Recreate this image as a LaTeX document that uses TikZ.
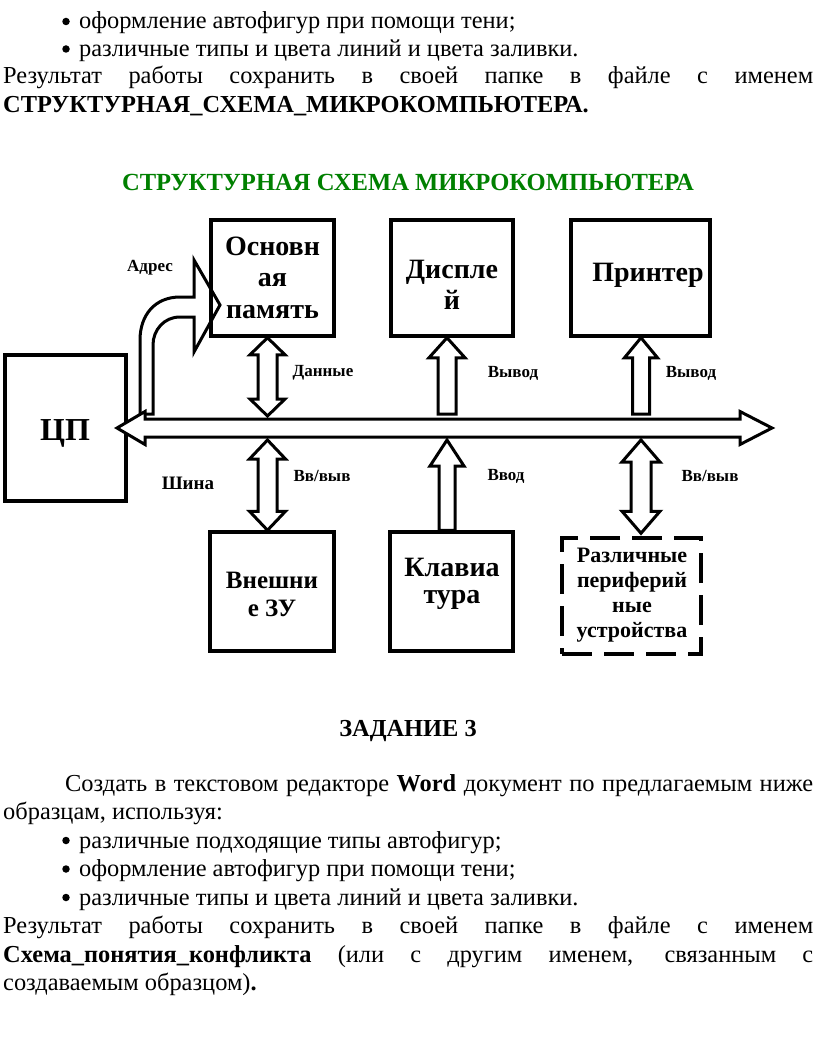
\documentclass[tikz,border=0pt]{standalone}
\usepackage{fontspec}
\setmainfont{LiberationSerif}[Extension=.ttf, UprightFont=*-Regular, BoldFont=*-Bold, ItalicFont=*-Italic, BoldItalicFont=*-BoldItalic]
\usetikzlibrary{calc}
\definecolor{titlegreen}{RGB}{0,128,0}
\newcommand\dblarrow[5]{%
\draw[blockarrow] let \p1=#1, \p2=#2 in (\x1,\y1) -- (\x1+#3pt,\y1-#5pt) -- (\x1+#4pt,\y1-#5pt) -- (\x1+#4pt,\y2+#5pt) -- (\x1+#3pt,\y2+#5pt) -- (\x1,\y2) -- (\x1-#3pt,\y2+#5pt) -- (\x1-#4pt,\y2+#5pt) -- (\x1-#4pt,\y1-#5pt) -- (\x1-#3pt,\y1-#5pt) -- cycle;}
\newcommand\uparr[5]{%
\draw[blockarrow] let \p1=#1, \p2=#2 in (\x1,\y1) -- (\x1+#3pt,\y1-#5pt) -- (\x1+#4pt,\y1-#5pt) -- (\x1+#4pt,\y2) -- (\x1-#4pt,\y2) -- (\x1-#4pt,\y1-#5pt) -- (\x1-#3pt,\y1-#5pt) -- cycle;}
\begin{document}
\begin{tikzpicture}[x=1pt,y=-1pt,
  body/.style={font=\fontsize{24.4}{28}\selectfont, inner sep=0pt, anchor=base west},
  bul/.style={circle, fill=black, inner sep=0pt, minimum size=7.5pt},
  boxsty/.style={draw, line width=3.5pt, inner sep=0pt},
  boxtext/.style={font=\fontsize{28}{31.5}\selectfont\bfseries, align=center, inner sep=0pt},
  blockarrow/.style={draw, line width=3pt, fill=white, line join=miter},
  lbl/.style={font=\fontsize{17}{20}\selectfont\bfseries, inner sep=0pt}]
\useasboundingbox (0,0) rectangle (816,1038);
\fill[white] (0,0) rectangle (816,1038);

% top text
\node[bul] (b1) at (66,21.5) {};
\node[body] (t1) at (79,29) {оформление автофигур при помощи тени;};
\node[bul] (b2) at (66,49) {};
\node[body] (t2) at (79,56.5) {различные типы и цвета линий и цвета заливки.};
\node[body] (t3) at (3,84) {\makebox[810pt][s]{Результат работы сохранить в своей папке в файле с именем}};
\node[body] (t4) at (3,112.5) {\bfseries СТРУКТУРНАЯ\_СХЕМА\_МИКРОКОМПЬЮТЕРА.};

% title
\node[body, anchor=base, text=titlegreen, font=\fontsize{24.6}{28}\selectfont\bfseries] (title) at (408,190) {СТРУКТУРНАЯ СХЕМА МИКРОКОМПЬЮТЕРА};

% named coordinates
\coordinate (busT) at (0,419);
\coordinate (busB) at (0,437);
\coordinate (c1) at (267.5,0);
\coordinate (c2) at (447,0);
\coordinate (c3) at (641,0);
\coordinate (busL) at (117,428);
\coordinate (busR) at (772,428);

% Adres arrow
\draw[blockarrow] (140,414) -- (140,340) .. controls (140,315) and (155,297) .. (180,297) -- (194,297) -- (194,260) -- (220,305) -- (194,352) -- (194,317) -- (180,317) .. controls (164,317) and (153,330) .. (153,345) -- (153,414) -- cycle;

% boxes
\node[boxsty, minimum width=123pt, minimum height=116pt] (mem) at (272.5,278) {};
\node[boxsty, minimum width=122pt, minimum height=116pt] (disp) at (452,278) {};
\node[boxsty, minimum width=139pt, minimum height=116pt] (prn) at (640.5,278) {};
\node[boxsty, minimum width=121pt, minimum height=146pt] (cpu) at (65.5,428) {};
\node[boxsty, minimum width=124pt, minimum height=119pt] (ext) at (272,591.5) {};
\node[boxsty, minimum width=123pt, minimum height=119pt] (kbd) at (451.5,591.5) {};
\node[boxsty, dash pattern=on 30pt off 12pt, minimum width=139pt, minimum height=116pt] (per) at (631.5,596) {};

% box texts
\node[boxtext] (memt) at (272.5,277.5) {Основн\\ая\\память};
\node[boxtext] (dispt) at (452,285) {Диспле\\й};
\node[boxtext] (prnt) at (648,275) {Принтер};
\node[boxtext, font=\fontsize{32}{36}\selectfont\bfseries] (cput) at (65,433) {ЦП};
\node[boxtext, font=\fontsize{25}{28}\selectfont\bfseries] (extt) at (272,594) {Внешни\\е ЗУ};
\node[boxtext, font=\fontsize{28}{27}\selectfont\bfseries] (kbdt) at (452,584) {Клавиа\\тура};
\node[boxtext, font=\fontsize{22}{25}\selectfont\bfseries] (pert) at (632,595) {Различные\\периферий\\ные\\устройства};

% bus
\draw[blockarrow] let \p1=(busL), \p2=(busR) in (\x1,\y1) -- (\x1+28pt,\y1+16.5pt) -- (\x1+28pt,\y1+9pt) -- (\x2-32pt,\y1+9pt) -- (\x2-32pt,\y1+16.5pt) -- (\x2,\y2) -- (\x2-32pt,\y1-16.5pt) -- (\x2-32pt,\y1-9pt) -- (\x1+28pt,\y1-9pt) -- (\x1+28pt,\y1-16.5pt) -- cycle;

% vertical arrows
\dblarrow{(c1 |- mem.south)}{($(c1 |- busT)+(0,-3)$)}{17.5}{9.5}{17}
\uparr{(c2 |- disp.south)}{($(c2 |- busT)+(0,-5)$)}{18}{9}{20}
\uparr{(c3 |- prn.south)}{($(c3 |- busT)+(0,-5)$)}{16.5}{8.5}{20}
\dblarrow{($(c1 |- busB)+(0,3)$)}{(c1 |- ext.north)}{18}{9.5}{19}
\uparr{($(c2 |- busB)+(0,3)$)}{(c2 |- kbd.north)}{17}{8}{26}
\dblarrow{($(c3 |- busB)+(0,3)$)}{($(c3 |- per.north)+(0,-3)$)}{19}{10}{22}

% labels
\node[lbl] (l1) at (150,268) {Адрес};
\node[lbl] (l2) at (323,373) {Данные};
\node[lbl] (l3) at (513,373) {Вывод};
\node[lbl] (l4) at (691,373) {Вывод};
\node[lbl, font=\fontsize{19}{22}\selectfont\bfseries] (l5) at (188,483) {Шина};
\node[lbl] (l6) at (322,476) {Вв/выв};
\node[lbl] (l7) at (506,476) {Ввод};
\node[lbl] (l8) at (710,476) {Вв/выв};

% bottom text
\node[body, anchor=base, font=\fontsize{24.4}{28}\selectfont\bfseries] (z3) at (408,736) {ЗАДАНИЕ 3};
\node[body] (s1) at (65,791) {\makebox[748pt][s]{Создать в текстовом редакторе \textbf{Word} документ по предлагаемым ниже}};
\node[body] (s2) at (3,819.5) {образцам, используя:};
\node[bul] (b3) at (66,840.5) {};
\node[body] (s3) at (79,848) {различные подходящие типы автофигур;};
\node[bul] (b4) at (66,869) {};
\node[body] (s4) at (79,876.5) {оформление автофигур при помощи тени;};
\node[bul] (b5) at (66,897.5) {};
\node[body] (s5) at (79,905) {различные типы и цвета линий и цвета заливки.};
\node[body] (s6) at (3,933.5) {\makebox[810pt][s]{Результат работы сохранить в своей папке в файле с именем}};
\node[body] (s7) at (3,962) {\makebox[810pt][s]{\textbf{Схема\_понятия\_конфликта} (или с другим именем, связанным с}};
\node[body] (s8) at (3,990.5) {создаваемым образцом)\textbf{.}};
\end{tikzpicture}
\end{document}
